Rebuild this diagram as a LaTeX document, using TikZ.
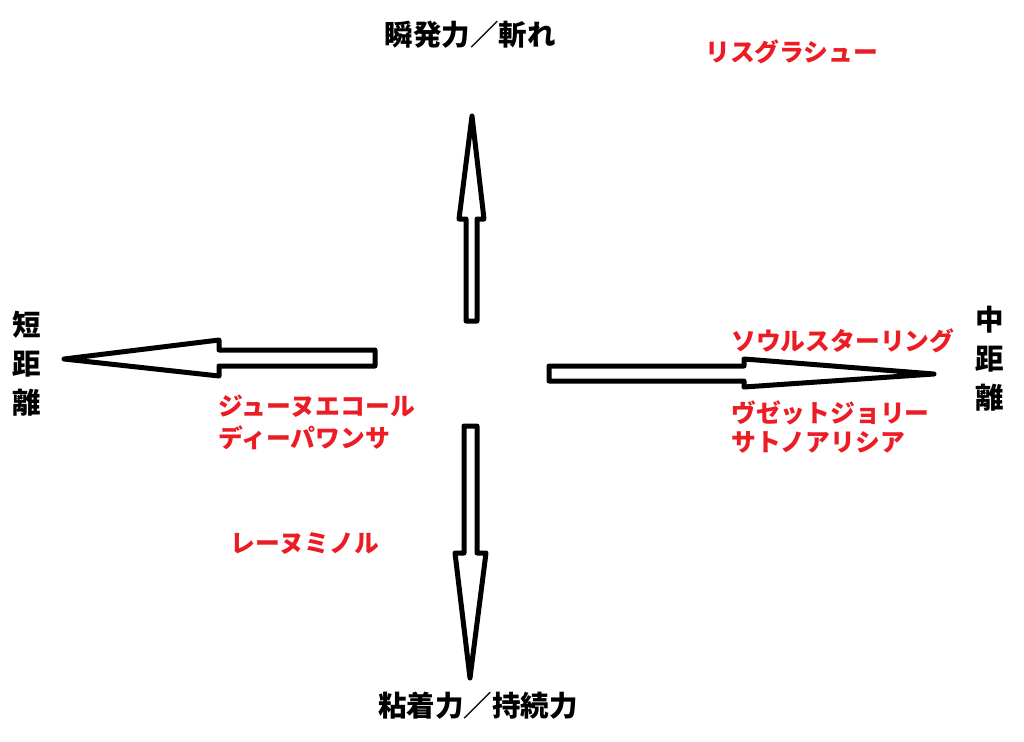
\documentclass[tikz,border=0pt]{standalone}
\usepackage{fontspec}
\newfontfamily\jp{Noto Sans CJK JP}
\definecolor{lblred}{RGB}{236,28,36}
\begin{document}
\begin{tikzpicture}[x=1pt,y=-1pt,
  arr/.style={draw=black,fill=white,line width=5pt,line join=round},
  axislbl/.style={font=\jp\bfseries\fontsize{28.5}{39}\selectfont,text=black,inner sep=0pt,align=center},
  horse/.style={font=\jp\bfseries\fontsize{24.8}{30}\selectfont,text=lblred,inner sep=0pt,anchor=west}]
\useasboundingbox (0,0) rectangle (1024,741);
% arrows
\draw[arr] (472,116) -- (484,219) -- (477,219) -- (477,321) -- (466,321) -- (466,219) -- (459,219) -- cycle;
\draw[arr] (470,678) -- (486,553) -- (477,553) -- (477,426) -- (464,426) -- (464,553) -- (455,553) -- cycle;
\draw[arr] (64,359) -- (219,340) -- (219,350) -- (375,350) -- (375,366) -- (219,366) -- (219,376) -- cycle;
\draw[arr] (934,374) -- (744,359) -- (744,366) -- (549,366) -- (549,381) -- (744,381) -- (744,387) -- cycle;
% axis labels
\node[axislbl] (top) at (470,35) {瞬発力／斬れ};
\node[axislbl] (bottom) at (478,706) {粘着力／持続力};
\node[axislbl] (left) at (27,364) {短\\距\\離};
\node[axislbl] (right) at (990,359) {中\\距\\離};
% horses
\node[horse] (h1) at (705,52) {リスグラシュー};
\node[horse] (h2) at (731,341) {ソウルスターリング};
\node[horse] (h3) at (731,413) {ヴゼットジョリー};
\node[horse] (h4) at (731,442) {サトノアリシア};
\node[horse] (h5) at (218,406) {ジューヌエコール};
\node[horse] (h6) at (218,438) {ディーパワンサ};
\node[horse] (h7) at (230,544) {レーヌミノル};
\end{tikzpicture}
\end{document}
